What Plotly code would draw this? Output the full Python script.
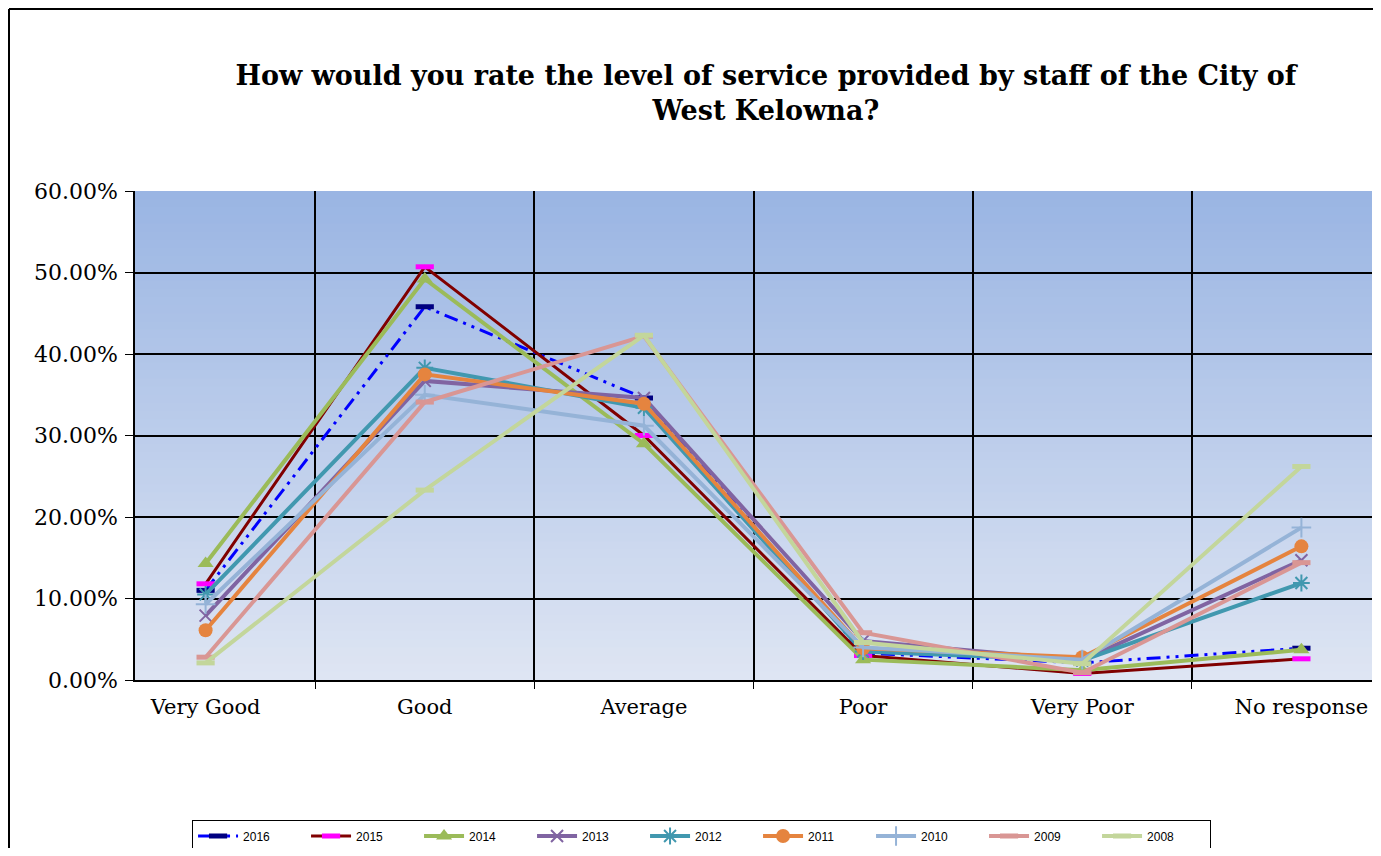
import plotly.graph_objects as go

categories = ["Very Good", "Good", "Average", "Poor", "Very Poor", "No response"]

s2016 = [11.0, 45.8, 34.6, 3.3, 2.1, 3.9]
s2015 = [11.8, 50.7, 30.0, 3.0, 0.8, 2.6]
s2014 = [14.3, 49.2, 29.0, 2.5, 1.2, 3.7]
s2013 = [7.9, 36.7, 34.6, 4.8, 2.4, 14.7]
s2012 = [10.5, 38.3, 33.4, 3.5, 2.4, 11.9]
s2011 = [6.1, 37.5, 33.9, 3.9, 2.8, 16.4]
s2010 = [9.3, 35.0, 31.2, 4.0, 2.5, 18.7]
s2009 = [2.8, 34.1, 42.2, 5.8, 0.9, 14.4]
s2008 = [2.1, 23.3, 42.3, 4.6, 2.0, 26.2]

years = ["2016", "2015", "2014", "2013", "2012", "2011", "2010", "2009", "2008"]
series = [s2016, s2015, s2014, s2013, s2012, s2011, s2010, s2009, s2008]

styles = {
    "2016": dict(line=dict(color="#0000FF", width=3, dash="14px,6px,3px,6px,3px,6px"),
                 marker=dict(symbol="line-ew", size=13, line=dict(color="#000080", width=5))),
    "2015": dict(line=dict(color="#800000", width=3),
                 marker=dict(symbol="line-ew", size=13, line=dict(color="#FF00FF", width=5))),
    "2014": dict(line=dict(color="#9BBB59", width=4),
                 marker=dict(symbol="triangle-up", size=14, color="#9BBB59")),
    "2013": dict(line=dict(color="#8064A2", width=4),
                 marker=dict(symbol="x-thin", size=12, line=dict(color="#8064A2", width=2))),
    "2012": dict(line=dict(color="#4198AF", width=4),
                 marker=dict(symbol="asterisk", size=14, line=dict(color="#4198AF", width=2))),
    "2011": dict(line=dict(color="#E5843F", width=4),
                 marker=dict(symbol="circle", size=14, color="#E5843F")),
    "2010": dict(line=dict(color="#95B3D7", width=4),
                 marker=dict(symbol="cross-thin", size=14, line=dict(color="#95B3D7", width=2))),
    "2009": dict(line=dict(color="#D99694", width=4),
                 marker=dict(symbol="line-ew", size=13, line=dict(color="#D99694", width=5))),
    "2008": dict(line=dict(color="#C3D69B", width=4),
                 marker=dict(symbol="line-ew", size=13, line=dict(color="#C3D69B", width=5))),
}

fig = go.Figure()
for yr, vals in zip(years, series):
    fig.add_trace(go.Scatter(x=categories, y=vals, name=yr, mode="lines+markers",
                             **styles[yr]))

W, H = 1373, 840
ML, MR, MT, MB = 127, 9, 183, 168
PW = W - ML - MR
PH = H - MT - MB

# gradient background bands (overlapping to avoid seams)
shapes = []
n = 60
top = (154, 181, 227)
bot = (222, 229, 243)
for i in range(n):
    t = i / (n - 1)
    c = tuple(round(top[k] + (bot[k] - top[k]) * t) for k in range(3))
    shapes.append(dict(type="rect", xref="x domain", yref="y domain",
                       x0=0, x1=1, y0=max(0, 1 - (i + 1) / n - 0.004), y1=1 - i / n,
                       fillcolor="rgb(%d,%d,%d)" % c, line=dict(width=0), layer="below"))
# outer chart border: top and left edges
bx = (1 - ML) / PW
by = 1 + (MT - 1) / PH
shapes.append(dict(type="line", xref="paper", yref="paper", x0=bx, x1=1 + MR / PW,
                   y0=by, y1=by, line=dict(color="black", width=2)))
shapes.append(dict(type="line", xref="paper", yref="paper", x0=bx, x1=bx,
                   y0=by, y1=-MB / PH, line=dict(color="black", width=2)))

fig.update_layout(
    width=W, height=H,
    paper_bgcolor="white", plot_bgcolor="white",
    margin=dict(l=ML, r=MR, t=MT, b=MB, autoexpand=False),
    shapes=shapes,
    title=dict(text="How would you rate the level of service provided by staff of the City of<br>West Kelowna?",
               x=0.552, xanchor="center", y=0.908, yanchor="top",
               font=dict(family="DejaVu Serif", size=27, color="black", weight="bold")),
    showlegend=True,
    legend=dict(orientation="h", x=0.458, xanchor="center", y=-0.319, yanchor="middle",
                bordercolor="black", borderwidth=1, bgcolor="white",
                font=dict(family="Liberation Sans, Arial", size=12, color="black"),
                itemwidth=40, entrywidth=58, entrywidthmode="pixels", tracegroupgap=0),
    xaxis=dict(type="category", tickson="boundaries", ticks="outside", ticklen=7,
               tickcolor="black", showgrid=True, gridcolor="black", gridwidth=1.5,
               showline=True, linecolor="black", linewidth=1.5, automargin=False,
               ticklabelstandoff=7,
               tickfont=dict(family="DejaVu Serif", size=21, color="black")),
    yaxis=dict(range=[0, 60], dtick=10, ticksuffix=".00%", ticks="outside", ticklen=8,
               tickcolor="black", showgrid=True, gridcolor="black", gridwidth=1.5,
               showline=True, linecolor="black", linewidth=1.5, zeroline=False,
               automargin=False, ticklabelstandoff=3,
               tickfont=dict(family="DejaVu Serif", size=22, color="black")),
)

fig.write_html("out.html")
